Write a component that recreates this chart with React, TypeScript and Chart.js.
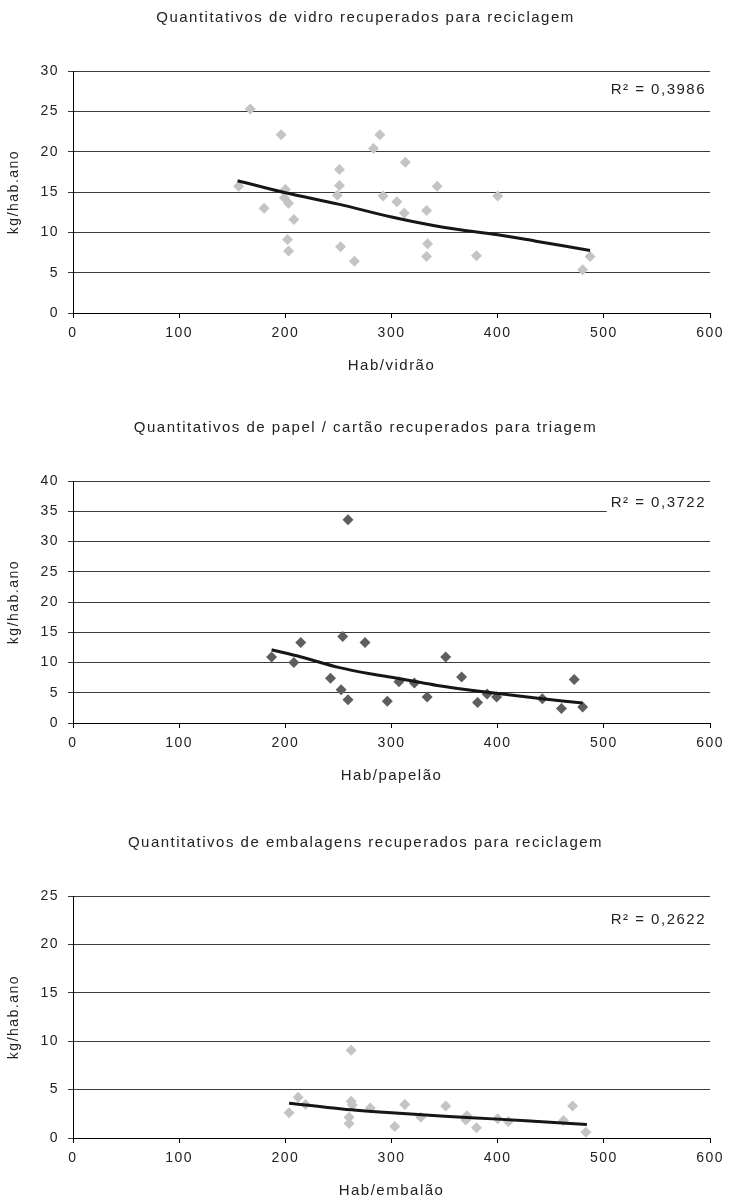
import React, { useEffect, useRef } from 'react';
import { Chart, registerables } from 'chart.js';

Chart.register(...registerables);

const FONT = "'Liberation Sans', Arial, Helvetica, sans-serif";
const TEXT = '#222222';
const LS = '1.5px';

const xTickStep = 100;
const xMin = 0;
const xMax = 600;
const yLabel = 'kg/hab.ano';

// Chart 1 — vidro
const vidroTitle = 'Quantitativos de vidro recuperados para reciclagem';
const vidroXLabel = 'Hab/vidrão';
const vidroYMax = 30;
const vidroX = [167, 196, 289, 283, 313, 251, 156, 251, 200, 343, 249, 292, 400, 199, 203, 305, 180, 312, 333, 208, 202, 334, 252, 203, 380, 333, 265, 487, 480];
const vidroY = [25.3, 22.1, 22.1, 20.4, 18.7, 17.8, 15.7, 15.8, 15.3, 15.7, 14.6, 14.5, 14.5, 14.3, 13.6, 13.8, 13.0, 12.4, 12.7, 11.6, 9.1, 8.6, 8.2, 7.7, 7.1, 7.0, 6.4, 7.0, 5.35];
const vidroTrendX = [155, 200, 250, 300, 350, 400, 436, 487];
const vidroTrendY = [16.4, 14.9, 13.5, 11.9, 10.6, 9.7, 8.9, 7.75];
const vidroR2 = 'R² = 0,3986';

// Chart 2 — papel / cartão
const papelTitle = 'Quantitativos de papel / cartão recuperados para triagem';
const papelXLabel = 'Hab/papelão';
const papelYMax = 40;
const papelX = [259, 254, 214.5, 275, 187, 351, 208, 242.5, 366, 252.5, 307, 321.5, 259, 296, 333.5, 381, 390, 399, 442, 460, 472, 480];
const papelY = [33.6, 14.3, 13.3, 13.3, 10.9, 10.9, 10.0, 7.4, 7.6, 5.5, 6.8, 6.6, 3.85, 3.6, 4.3, 3.4, 4.8, 4.3, 4.0, 2.4, 7.2, 2.65];
const papelTrendX = [187, 215, 250, 281, 312, 343, 375, 418, 442, 480];
const papelTrendY = [12.1, 10.9, 9.2, 8.1, 7.2, 6.2, 5.4, 4.5, 4.0, 3.3];
const papelR2 = 'R² = 0,3722';

// Chart 3 — embalagens
const embTitle = 'Quantitativos de embalagens recuperados para reciclagem';
const embXLabel = 'Hab/embalão';
const embYMax = 25;
const embX = [262, 212, 219, 203.5, 262, 263, 260, 260, 280, 303, 312.5, 327.5, 351, 371, 370, 380, 400, 410, 462, 470.5, 483];
const embY = [9.06, 4.2, 3.45, 2.6, 3.8, 3.4, 2.15, 1.5, 3.1, 1.2, 3.45, 2.15, 3.3, 2.3, 1.85, 1.05, 2.0, 1.7, 1.8, 3.3, 0.6];
const embTrendX = [203.5, 253.5, 300, 350, 400, 453, 484];
const embTrendY = [3.6, 3.0, 2.6, 2.25, 1.95, 1.6, 1.4];
const embR2 = 'R² = 0,2622';

const CANVAS_W = 731;
const CANVAS_H = 410;

type PanelProps = {
  top: number;
  title: string;
  xLabel: string;
  yMax: number;
  xs: number[];
  ys: number[];
  tx: number[];
  ty: number[];
  color: string;
  r2: string;
  r2Y: number;
  r2Bg: boolean;
};

const textPlugin = {
  id: 'texts',
  beforeLayout(chart: any) {
    chart.ctx.letterSpacing = LS;
  },
  beforeDraw(chart: any) {
    chart.ctx.letterSpacing = LS;
  },
  afterDraw(chart: any, _args: any, opts: any) {
    const ctx = chart.ctx;
    ctx.save();
    ctx.letterSpacing = LS;
    ctx.fillStyle = TEXT;
    ctx.font = `15px ${FONT}`;
    ctx.textAlign = 'center';
    ctx.textBaseline = 'middle';
    ctx.fillText(opts.title, CANVAS_W / 2, 18);
    ctx.font = `15px ${FONT}`;
    ctx.textAlign = 'right';
    const w = ctx.measureText(opts.r2).width;
    if (opts.r2Bg) {
      ctx.fillStyle = '#ffffff';
      ctx.fillRect(706 - w - 4, opts.r2Y - 11, w + 10, 22);
    }
    ctx.fillStyle = TEXT;
    ctx.fillText(opts.r2, 706, opts.r2Y);
    ctx.restore();
  },
};

function Panel(p: PanelProps) {
  const ref = useRef<HTMLCanvasElement | null>(null);
  useEffect(() => {
    if (!ref.current) return;
    const points = p.xs.map((x, i) => ({ x, y: p.ys[i] }));
    const trend = p.tx.map((x, i) => ({ x, y: p.ty[i] }));
    const chart = new Chart(ref.current, {
      type: 'scatter',
      data: {
        datasets: [
          {
            type: 'line',
            data: trend,
            borderColor: '#161616',
            borderWidth: 3,
            pointRadius: 0,
            showLine: true,
            tension: 0.3,
            fill: false,
          } as any,
          {
            data: points,
            pointStyle: 'rectRot',
            pointRadius: 5.5,
            backgroundColor: p.color,
            borderColor: p.color,
            borderWidth: 0,
          },
        ],
      },
      options: {
        animation: false,
        responsive: false,
        layout: { padding: { top: 71, right: 16, left: 0, bottom: 0 } },
        plugins: {
          legend: { display: false },
          tooltip: { enabled: false },
          title: { display: false },
          texts: { title: p.title, r2: p.r2, r2Y: p.r2Y, r2Bg: p.r2Bg },
        } as any,
        scales: {
          x: {
            type: 'linear',
            min: xMin,
            max: xMax,
            ticks: { stepSize: xTickStep, padding: 7, color: TEXT, font: { family: FONT, size: 14 } },
            grid: { drawOnChartArea: false, drawTicks: true, tickLength: 5, color: '#000' },
            border: { display: true, color: '#000', width: 1 },
            title: {
              display: true,
              text: p.xLabel,
              color: TEXT,
              font: { family: FONT, size: 15 },
              padding: { top: 0, bottom: 35 },
            },
            afterFit: (s: any) => {
              s.height = CANVAS_H - 313;
            },
          },
          y: {
            min: 0,
            max: p.yMax,
            ticks: { stepSize: 5, padding: 9, color: TEXT, font: { family: FONT, size: 14 } },
            grid: { drawTicks: true, tickLength: 5, color: '#3a3a3a', lineWidth: 1 },
            border: { display: true, color: '#000', width: 1 },
            title: {
              display: true,
              text: yLabel,
              color: TEXT,
              font: { family: FONT, size: 14 },
              padding: { top: 6, bottom: 0 },
            },
            afterFit: (s: any) => {
              s.width = 73;
            },
          },
        },
      } as any,
      plugins: [textPlugin as any],
    });
    return () => chart.destroy();
  }, []);
  return (
    <div style={{ position: 'absolute', left: 0, top: p.top, width: CANVAS_W, height: CANVAS_H }}>
      <canvas ref={ref} width={CANVAS_W} height={CANVAS_H} style={{ display: 'block' }} />
    </div>
  );
}

export default function App() {
  return (
    <div
      style={{
        position: 'absolute',
        left: 0,
        top: 0,
        width: 731,
        height: 1200,
        overflow: 'hidden',
        background: '#fff',
      }}
    >
      <Panel top={0} title={vidroTitle} xLabel={vidroXLabel} yMax={vidroYMax} xs={vidroX} ys={vidroY}
        tx={vidroTrendX} ty={vidroTrendY} color="#c4c4c4" r2={vidroR2} r2Y={90} r2Bg={false} />
      <Panel top={410} title={papelTitle} xLabel={papelXLabel} yMax={papelYMax} xs={papelX} ys={papelY}
        tx={papelTrendX} ty={papelTrendY} color="#5e5e5e" r2={papelR2} r2Y={93} r2Bg={true} />
      <Panel top={825} title={embTitle} xLabel={embXLabel} yMax={embYMax} xs={embX} ys={embY}
        tx={embTrendX} ty={embTrendY} color="#c4c4c4" r2={embR2} r2Y={95} r2Bg={false} />
    </div>
  );
}
